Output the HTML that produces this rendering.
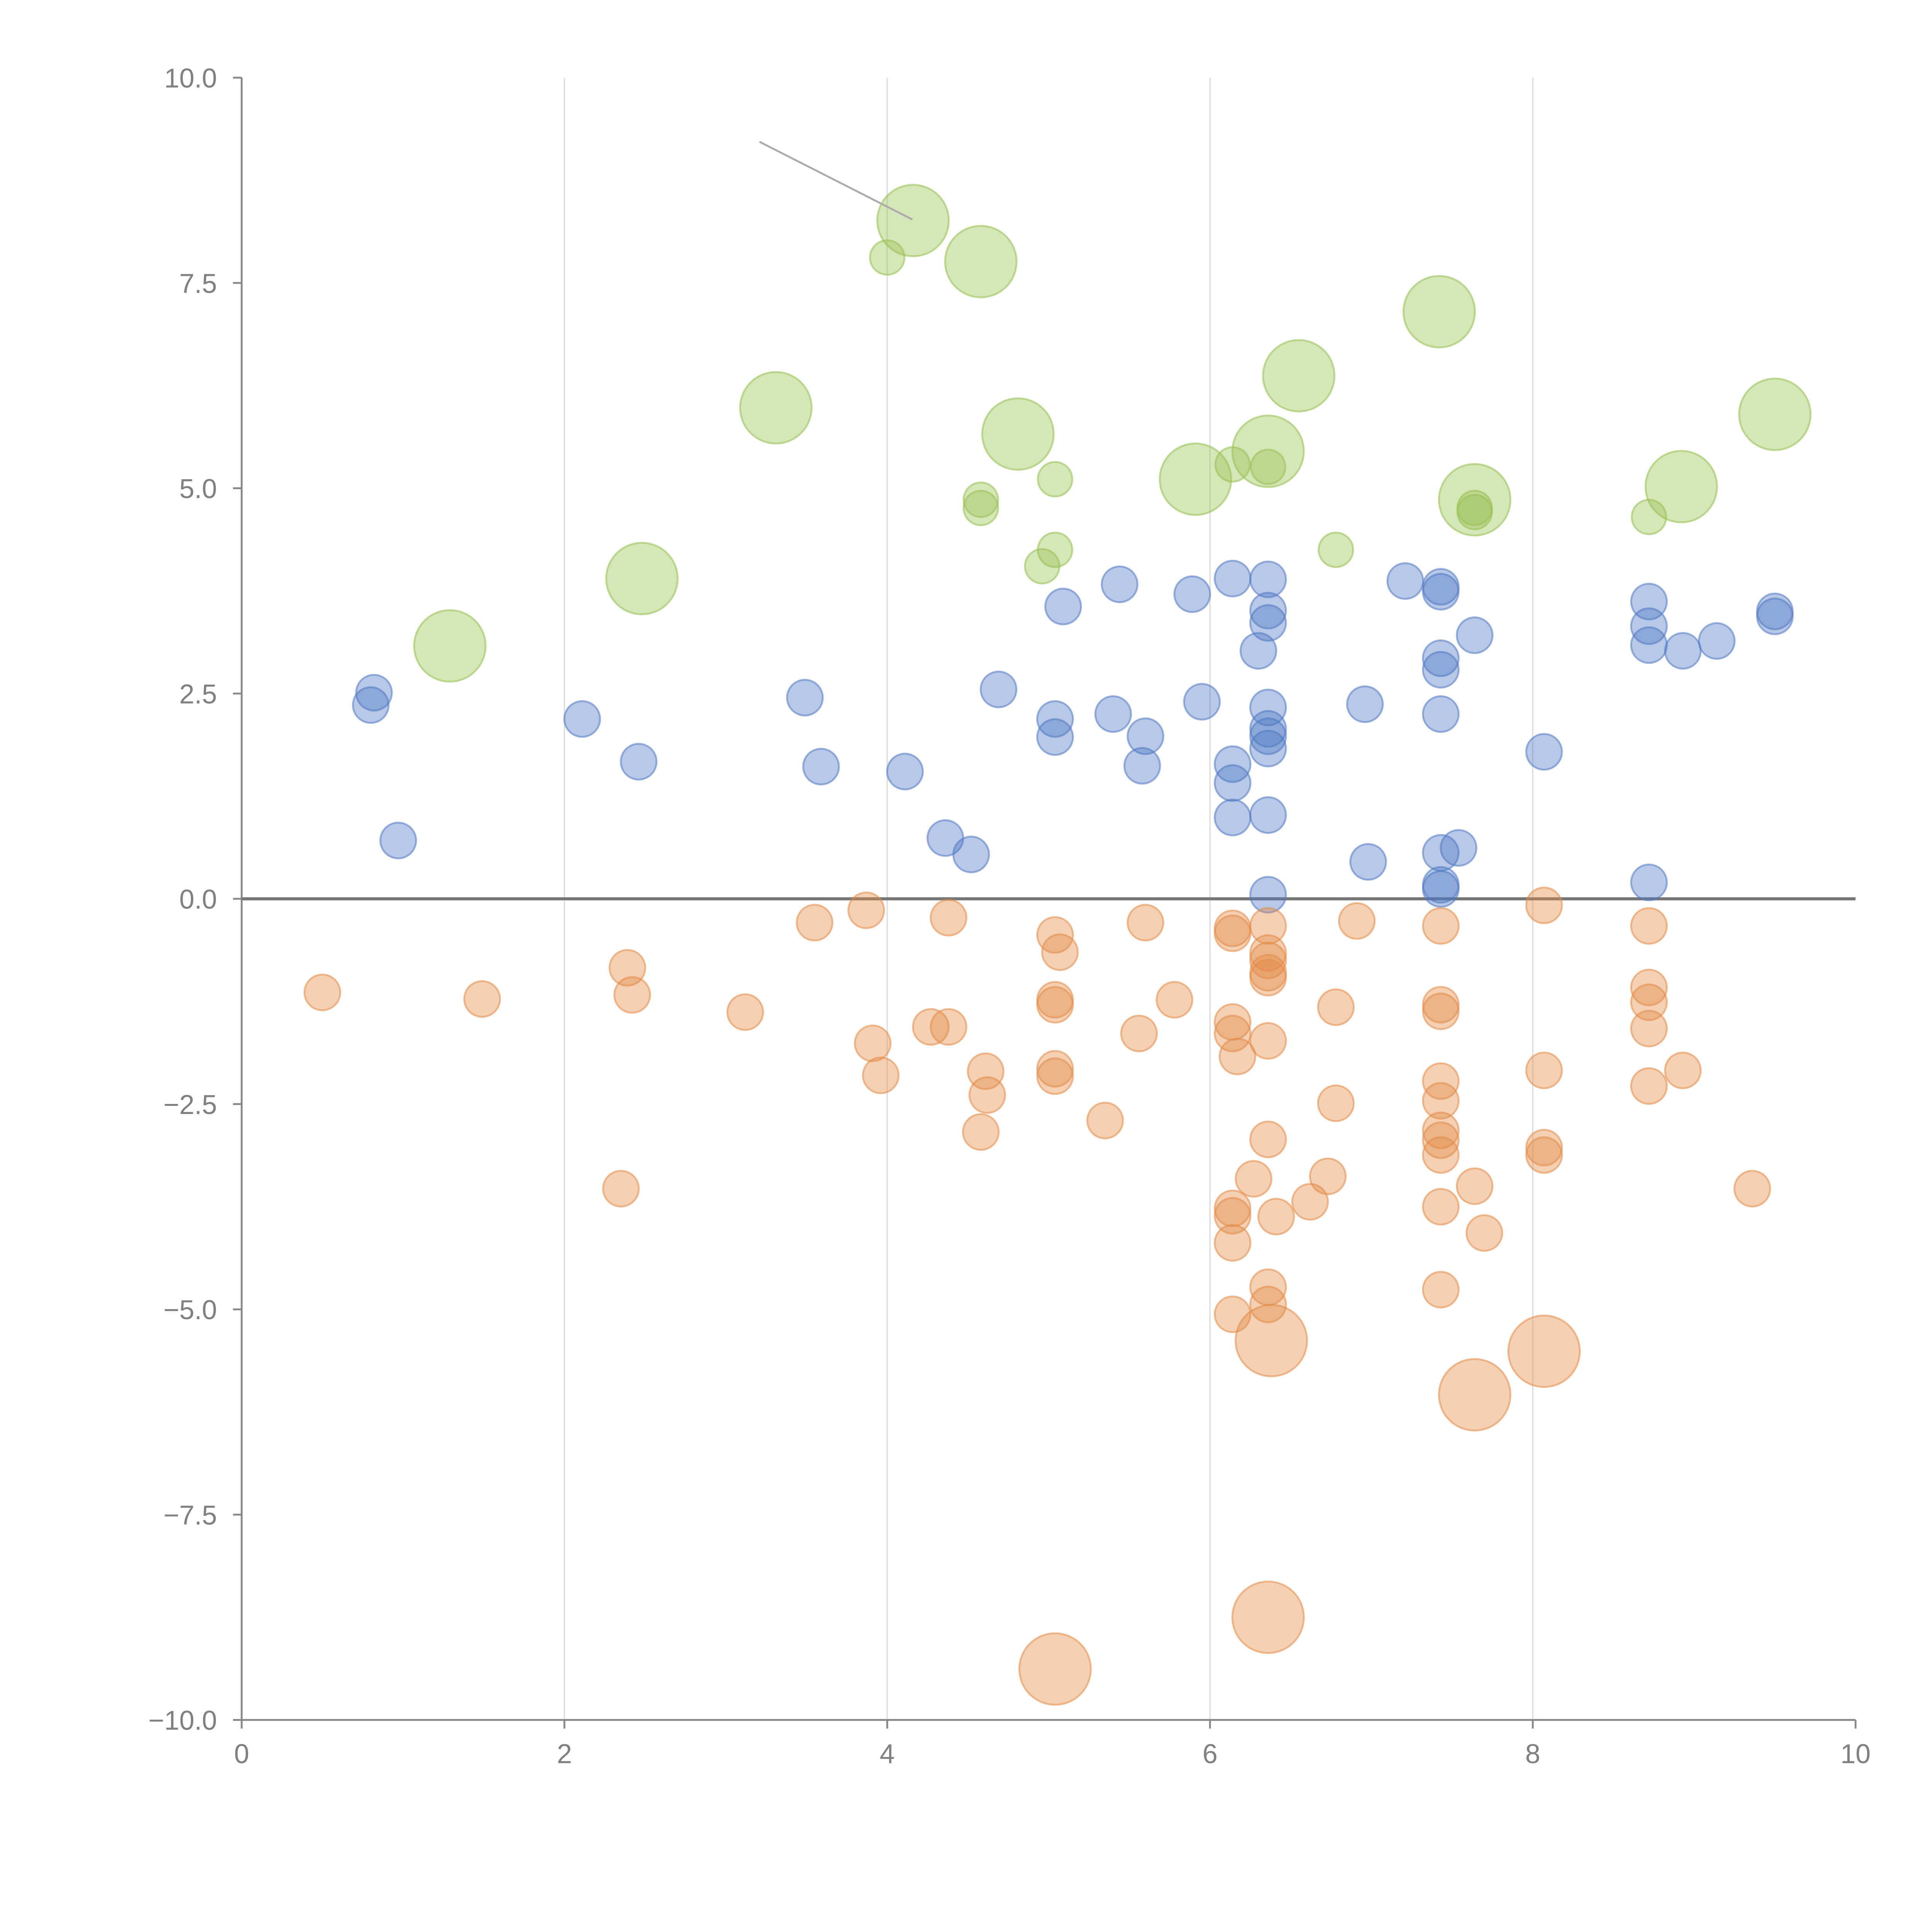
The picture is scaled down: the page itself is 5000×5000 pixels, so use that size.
<!DOCTYPE html>
<html><head><meta charset="utf-8"><style>html,body{margin:0;padding:0;background:#fff}svg{display:block}</style></head>
<body>
<svg id="chart" width="5000" height="5000" viewBox="0 0 1567 1567" xmlns="http://www.w3.org/2000/svg" font-family="Liberation Sans, sans-serif"></svg>
<script>
const xTicks=[0,2,4,6,8,10];
const yTicks=[-10,-7.5,-5,-2.5,0,2.5,5,7.5,10];
const blueX=[0.82,0.80,0.97,2.11,2.46,3.49,3.59,4.11,4.36,4.52,4.69,5.04,5.04,5.09,5.44,5.40,5.60,5.58,5.89,5.95,6.14,6.14,6.14,6.14,6.30,6.36,6.36,6.36,6.36,6.36,6.36,6.36,6.36,6.36,6.96,6.98,7.21,7.43,7.43,7.43,7.43,7.43,7.43,7.43,7.43,7.54,7.64,8.07,8.72,8.72,8.72,8.72,8.93,9.14,9.50,9.50];
const blueY=[2.51,2.36,0.71,2.19,1.67,2.45,1.61,1.55,0.74,0.54,2.55,2.19,1.97,3.56,3.83,2.25,1.98,1.62,3.71,2.40,3.90,1.64,1.41,0.99,3.02,3.89,3.51,3.36,2.33,2.07,1.98,1.83,1.02,0.05,2.37,0.45,3.87,3.80,3.74,2.93,2.79,2.25,0.56,0.17,0.12,0.62,3.21,1.79,3.62,3.32,3.09,0.20,3.02,3.14,3.50,3.44];
const orangeX=[0.50,1.49,2.39,2.42,2.35,3.12,3.55,3.87,3.91,3.96,4.38,4.27,4.38,4.61,4.62,4.58,5.04,5.07,5.04,5.04,5.04,5.04,5.35,5.60,5.56,5.78,6.14,6.14,6.14,6.14,6.17,6.14,6.14,6.14,6.14,6.27,6.36,6.36,6.36,6.36,6.36,6.36,6.36,6.41,6.36,6.36,6.62,6.73,6.78,6.78,6.91,7.43,7.43,7.43,7.43,7.43,7.43,7.43,7.43,7.43,7.43,7.64,7.70,8.07,8.07,8.07,8.07,8.72,8.72,8.72,8.72,8.72,8.93,9.36];
const orangeY=[-1.14,-1.22,-0.84,-1.17,-3.53,-1.38,-0.29,-0.14,-1.76,-2.15,-0.23,-1.56,-1.56,-2.10,-2.39,-2.84,-0.44,-0.65,-1.23,-1.29,-2.07,-2.16,-2.70,-0.29,-1.64,-1.23,-0.36,-0.42,-1.50,-1.64,-1.92,-3.77,-3.86,-4.19,-5.06,-3.41,-0.33,-0.66,-0.75,-0.90,-0.96,-1.73,-2.93,-3.87,-4.73,-4.94,-3.69,-3.38,-1.32,-2.49,-0.27,-0.33,-1.29,-1.37,-2.22,-2.46,-2.82,-2.94,-3.12,-3.75,-4.76,-3.50,-4.07,-0.08,-2.09,-3.03,-3.12,-0.33,-1.08,-1.26,-1.58,-2.28,-2.09,-3.53];
const orangeBigX=[6.38,7.64,8.07,6.36,5.04];
const orangeBigY=[-5.38,-6.04,-5.51,-8.75,-9.38];
const greenX=[4.00,4.58,4.58,5.04,5.04,4.96,6.14,6.36,6.78,7.64,7.64,8.72];
const greenY=[7.81,4.86,4.76,5.11,4.25,4.05,5.29,5.26,4.25,4.76,4.71,4.65];
const greenBigX=[4.16,4.58,3.31,4.81,2.48,1.29,5.91,6.36,6.55,7.42,7.64,8.92,9.50];
const greenBigY=[8.26,7.76,5.98,5.66,3.90,3.08,5.11,5.45,6.37,7.15,4.86,5.02,5.90];

const X0=196,X1=1505,Y0=1395,Y1=63;
function sx(v){return X0+(v-0)/(10-0)*(X1-X0);}
function sy(v){return Y0-(v+10)/20*(Y0-Y1);}
const NS="http://www.w3.org/2000/svg";
const svg=document.getElementById('chart');
function mk(tag,attrs){const e=document.createElementNS(NS,tag);for(const k in attrs)e.setAttribute(k,attrs[k]);svg.appendChild(e);return e;}

xTicks.forEach(t=>{
  if(t>0&&t<10){const g=mk('line',{x1:sx(t),x2:sx(t),y1:Y1,y2:Y0,stroke:'#dcdcdc','stroke-width':1});
  
  }
  const tk=mk('line',{x1:sx(t),x2:sx(t),y1:Y0,y2:Y0+7,stroke:'#888','stroke-width':1.5});
  
  
  const tx=mk('text',{x:sx(t),y:Y0+35,'text-anchor':'middle','font-size':22,fill:'#808080'});
  tx.textContent=String(t);
  
  
});
yTicks.forEach(t=>{
  const tk=mk('line',{x1:X0-7,x2:X0,y1:sy(t),y2:sy(t),stroke:'#888','stroke-width':1.5});
  
  
  const tx=mk('text',{x:X0-20,y:sy(t)+8,'text-anchor':'end','font-size':22,fill:'#808080'});
  tx.textContent=(t<0?'\u2212':'')+Math.abs(t).toFixed(1);
  
  
});
const ya=mk('line',{x1:X0,x2:X0,y1:Y1,y2:Y0,stroke:'#888','stroke-width':1.5});


const xa=mk('line',{x1:X0,x2:X1,y1:Y0,y2:Y0,stroke:'#888','stroke-width':1.5});


const zl=mk('line',{x1:X0,x2:X1,y1:sy(0),y2:sy(0),stroke:'#777','stroke-width':2.5});



function series(xs,ys,r,col,name){
  xs.forEach((x,i)=>{
    const c=mk('circle',{cx:sx(x),cy:sy(ys[i]),r:r,fill:col,'fill-opacity':0.4,stroke:col,'stroke-opacity':0.55,'stroke-width':1.5});
    
    
  });
}
series(blueX,blueY,14.5,'rgb(78,121,196)','blue-point');
series(orangeX,orangeY,14.5,'rgb(228,138,70)','orange-point');
series(orangeBigX,orangeBigY,29,'rgb(228,138,70)','orange-large-point');
series(greenX,greenY,14,'rgb(150,192,80)','green-point');
series(greenBigX,greenBigY,29,'rgb(150,192,80)','green-large-point');

const ann=mk('line',{x1:616,y1:115,x2:740,y2:178,stroke:'#aaa','stroke-width':1.5});


</script>
</body></html>
